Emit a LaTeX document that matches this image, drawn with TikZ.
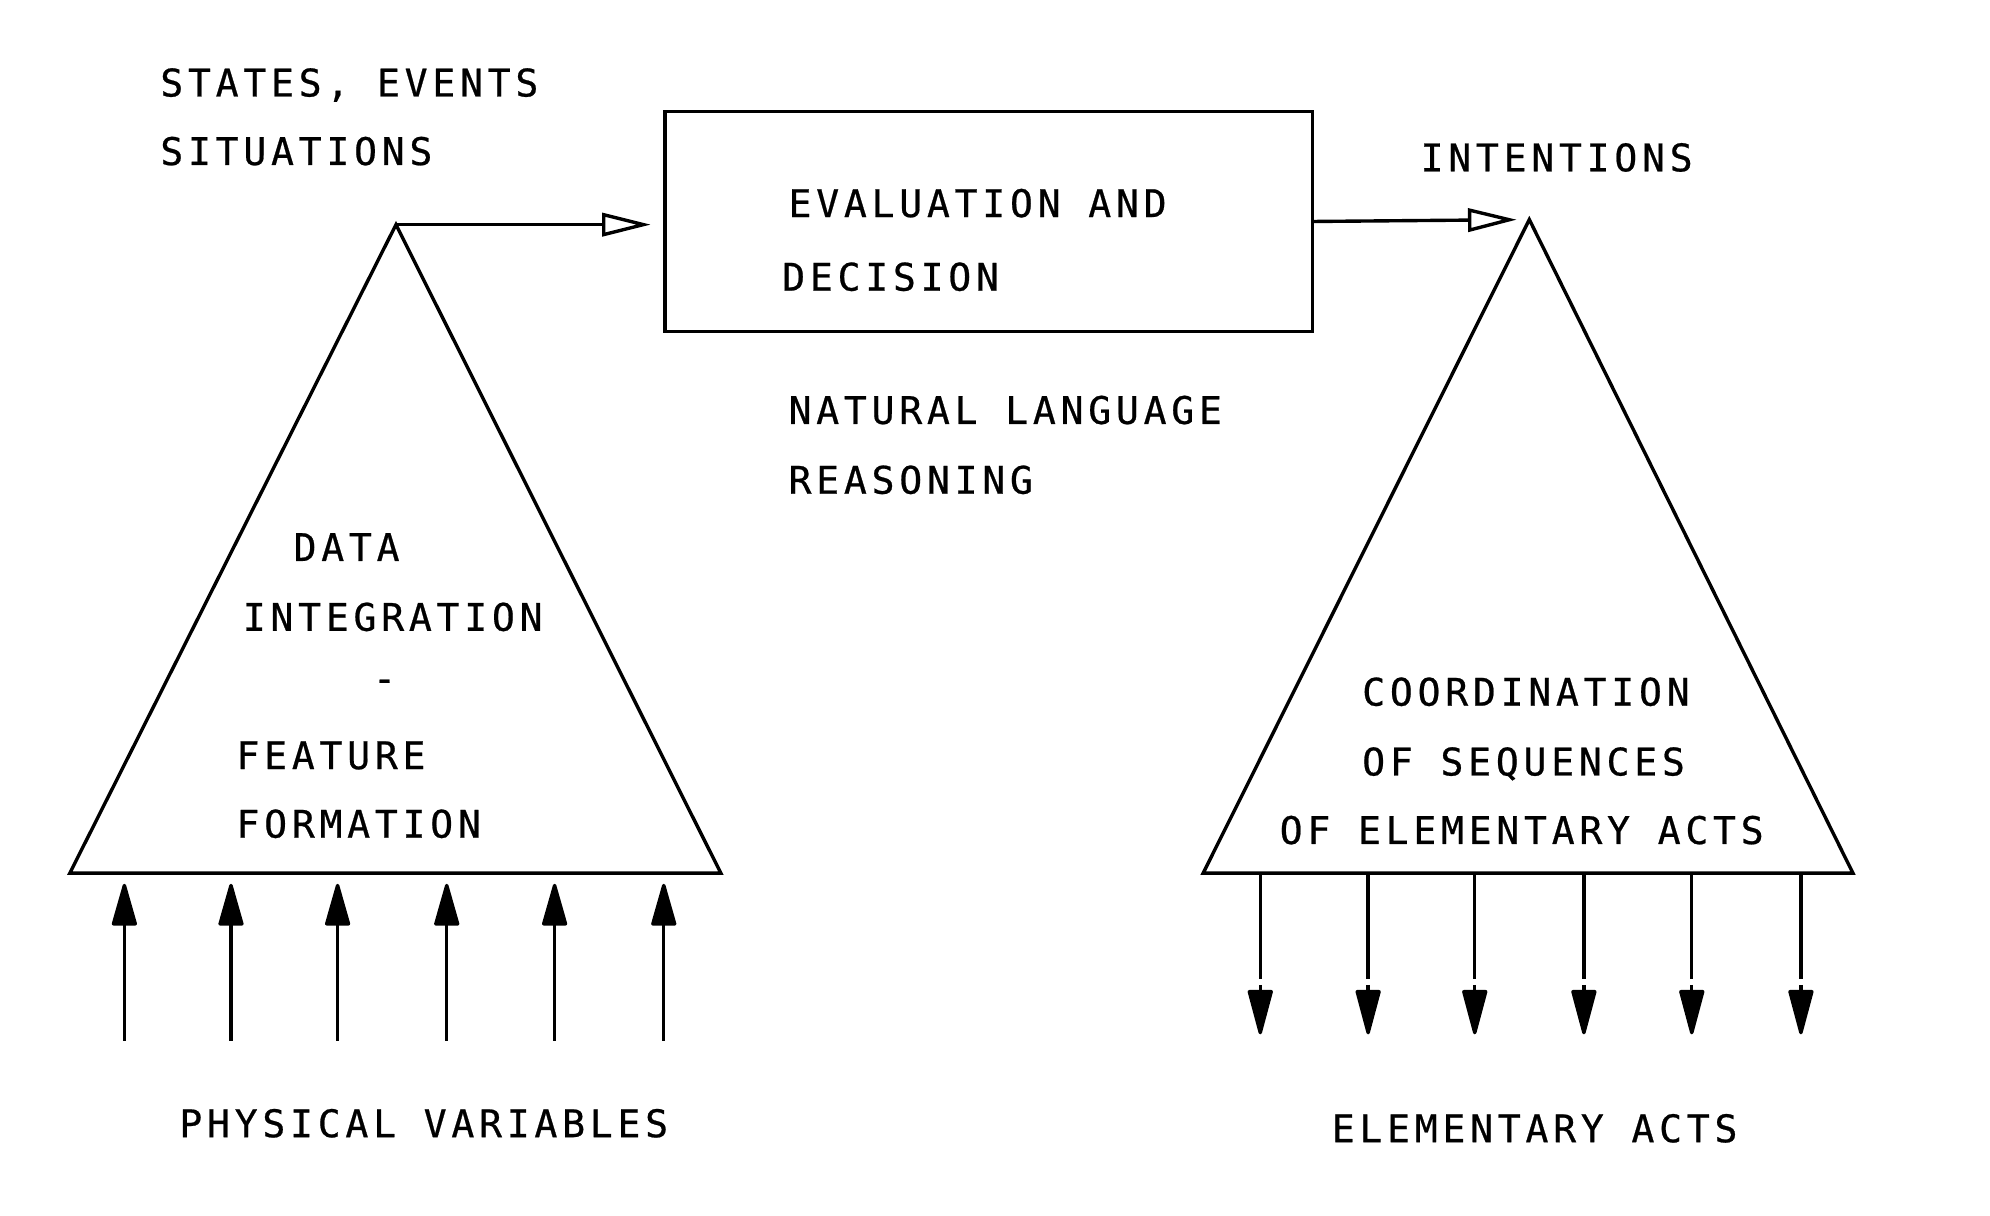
\documentclass[tikz,border=0pt]{standalone}
\usepackage{fontspec}
\setmonofont{DejaVu Sans Mono}[LetterSpace=12.5,FakeBold=0.6]
\usetikzlibrary{arrows.meta}

\begin{document}
\begin{tikzpicture}[x=0.6pt,y=-0.6pt,line width=1.6pt,
    lbl/.style={font=\ttfamily\fontsize{18}{22}\selectfont,anchor=base west,inner sep=0pt},
    feed/.style={-{Triangle[open,length=23pt,width=11pt]},shorten >=6pt},
    upline/.style={-{Triangle[length=22pt,width=12pt,round]},shorten >=5pt},
    downhead/.style={-{Triangle[length=23.4pt,width=12pt,round]}}]
  \useasboundingbox (0,0) rectangle (1568,958);
  \coordinate (ltop)   at (312,177);
  \coordinate (lleft)  at (55,688);
  \coordinate (lright) at (568,688);
  \coordinate (rtop)   at (1205,173);
  \coordinate (rleft)  at (948,688);
  \coordinate (rright) at (1460,688);
  \draw (ltop) -- (lleft) -- (lright) -- cycle;
  \draw (rtop) -- (rleft) -- (rright) -- cycle;
  \node (eval) [draw,minimum width=306pt,minimum height=103.8pt,inner sep=0pt] at (779,174.5) {};
  \draw[feed] (ltop) -- (ltop -| eval.west);
  \draw[feed] (eval.east) -- (rtop);
  \foreach \x [count=\i] in {98,182,266,352,437,523} {
    \coordinate (in\i) at (\x,820);
    \draw[upline] (in\i) -- (in\i |- lleft);
  }
  \foreach \x [count=\i] in {993,1078,1162,1248,1333,1419} {
    \coordinate (gap\i) at (\x,771);
    \coordinate (head\i) at (\x,776);
    \coordinate (out\i) at (\x,815);
    \draw (out\i |- rleft) -- (gap\i);
    \draw[downhead] (head\i) -- (out\i);
  }
  \node (states)  [lbl] at (125,76)  {STATES, EVENTS};
  \node (situat)  [lbl] at (125,130) {SITUATIONS};
  \node (evalA)   [lbl] at (620,171) {EVALUATION AND};
  \node (evalB)   [lbl] at (615,229) {DECISION};
  \node (natA)    [lbl] at (620,334) {NATURAL LANGUAGE};
  \node (natB)    [lbl] at (620,389) {REASONING};
  \node (intent)  [lbl] at (1118,135) {INTENTIONS};
  \node (dataA)   [lbl] at (230,442) {DATA};
  \node (dataB)   [lbl] at (190,497) {INTEGRATION};
  \node (dash)    [lbl,anchor=base] at (303,545) {-};
  \node (featA)   [lbl] at (185,606) {FEATURE};
  \node (featB)   [lbl] at (185,660) {FORMATION};
  \node (coordA)  [lbl] at (1072,556) {COORDINATION};
  \node (coordB)  [lbl] at (1072,611) {OF SEQUENCES};
  \node (coordC)  [lbl] at (1007,665) {OF ELEMENTARY ACTS};
  \node (physvar) [lbl] at (140,896) {PHYSICAL VARIABLES};
  \node (elemact) [lbl] at (1048,900) {ELEMENTARY ACTS};
\end{tikzpicture}
\end{document}
